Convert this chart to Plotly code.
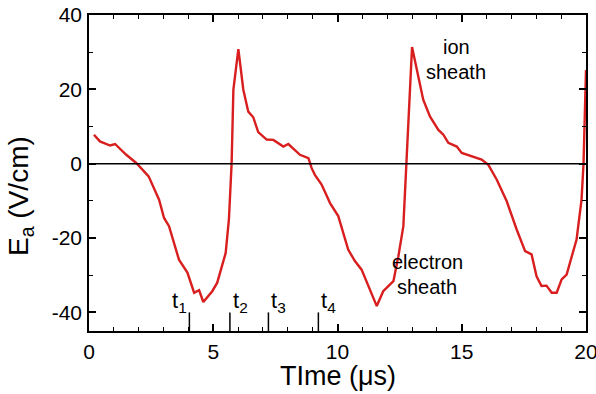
import plotly.graph_objects as go

time_us = [0.2, 0.44, 0.85, 1.05, 1.5, 1.9, 2.4, 2.82, 3.02, 3.22, 3.62, 3.96, 4.23, 4.43, 4.6,
           4.96, 5.16, 5.5, 5.63, 5.74, 5.81, 6.01, 6.21, 6.41, 6.61, 6.81, 7.15, 7.42, 7.82,
           8.02, 8.49, 8.83, 8.96, 9.09, 9.36, 9.7, 10.03, 10.43, 10.7, 10.97, 11.58, 11.84,
           12.25, 12.45, 12.65, 12.78, 13.0, 13.45, 13.72, 14.06, 14.26, 14.46, 14.8, 15.0,
           15.4, 15.8, 16.07, 16.41, 16.81, 17.21, 17.55, 17.81, 18.01, 18.21, 18.41, 18.62,
           18.82, 19.02, 19.22, 19.62, 19.82, 19.9, 20.0]
field_Vcm = [7.8, 6.0, 4.9, 5.3, 2.4, 0.2, -3.4, -9.7, -14.6, -16.8, -25.8, -29.3, -34.7, -34.0,
             -37.2, -34.3, -32.0, -24.0, -15.0, 0.2, 19.9, 30.8, 19.9, 14.0, 12.5, 8.5, 6.5, 6.4,
             4.6, 5.3, 2.4, 1.5, -1.2, -3.0, -5.6, -10.6, -14.1, -23.1, -26.2, -28.5, -38.3,
             -34.3, -31.6, -24.9, -16.8, 0.0, 31.4, 17.2, 12.7, 9.1, 7.8, 5.6, 4.6, 2.9,
             2.0, 1.1, -0.3, -4.3, -10.1, -17.7, -23.5, -24.4, -30.3, -32.9, -32.8, -34.7,
             -34.7, -31.1, -29.8, -20.4, -9.7, 0.0, 25.2]

marker_times = [4.04, 5.67, 7.22, 9.23]
marker_names = ["t<sub>1</sub>", "t<sub>2</sub>", "t<sub>3</sub>", "t<sub>4</sub>"]
marker_side = ["left", "right", "right", "right"]

x_ticks = [0, 5, 10, 15, 20]
y_ticks = [-40, -20, 0, 20, 40]

FONT = "Liberation Sans, Arial, sans-serif"
X_RANGE = [0, 20]
Y_RANGE = [-45, 40]

fig = go.Figure()
fig.add_trace(go.Scatter(x=time_us, y=field_Vcm, mode="lines",
                         line=dict(color="#d81e1e", width=2.4), showlegend=False))
# invisible companion trace to draw the mirrored top/right axes with minor ticks
fig.add_trace(go.Scatter(x=time_us, y=field_Vcm, mode="lines", xaxis="x2", yaxis="y2",
                         line=dict(color="rgba(0,0,0,0)", width=0), showlegend=False,
                         hoverinfo="skip"))

# zero line
fig.add_shape(type="line", xref="x", yref="y", x0=0, x1=20, y0=0, y1=0,
              line=dict(color="black", width=1.5))

for t, name, side in zip(marker_times, marker_names, marker_side):
    fig.add_shape(type="line", xref="x", yref="y", x0=t, x1=t, y0=-45, y1=-40,
                  line=dict(color="black", width=1.5))
    fig.add_annotation(x=t, y=-41.5, xref="x", yref="y", text=name, showarrow=False,
                       xanchor="right" if side == "left" else "left", yanchor="bottom",
                       xshift=0 if side == "left" else 1,
                       font=dict(family=FONT, size=22, color="black"))

fig.add_annotation(x=14.77, y=31.5, text="ion", showarrow=False, xref="x", yref="y",
                   font=dict(family=FONT, size=20, color="black"))
fig.add_annotation(x=14.75, y=24.8, text="sheath", showarrow=False, xref="x", yref="y",
                   font=dict(family=FONT, size=20, color="black"))
fig.add_annotation(x=13.62, y=-26.5, text="electron", showarrow=False, xref="x", yref="y",
                   font=dict(family=FONT, size=20, color="black"))
fig.add_annotation(x=13.6, y=-33.1, text="sheath", showarrow=False, xref="x", yref="y",
                   font=dict(family=FONT, size=20, color="black"))

# axis titles
fig.add_annotation(x=0.5, y=(331 - 376) / 316, xref="paper", yref="paper",
                   text="TIme (\u03bcs)", showarrow=False, xanchor="center", yanchor="middle",
                   font=dict(family=FONT, size=27, color="black"))
fig.add_annotation(x=-68 / 497, y=(331 - 196) / 316, xref="paper", yref="paper",
                   text="E<sub>a</sub> (V/cm)", showarrow=False, textangle=-90,
                   xanchor="center", yanchor="middle",
                   font=dict(family=FONT, size=28, color="black"))

axis_common = dict(showgrid=False, zeroline=False, showline=True, linecolor="black",
                   linewidth=1.5, ticks="inside", ticklen=7, tickwidth=1.5,
                   tickcolor="black", automargin=False,
                   tickfont=dict(family=FONT, size=21, color="black"))

x_minor = dict(ticks="inside", ticklen=4, dtick=1, tick0=0, tickcolor="black", tickwidth=1.2)
y_minor = dict(ticks="inside", ticklen=4, dtick=10, tick0=0, tickcolor="black", tickwidth=1.2)

fig.update_layout(
    xaxis=dict(range=X_RANGE, tickvals=x_ticks, ticktext=[str(v) for v in x_ticks],
               minor=x_minor, ticklabelstandoff=1, ticklabeloverflow="allow", **axis_common),
    yaxis=dict(range=Y_RANGE, tickvals=y_ticks, ticktext=[str(v) for v in y_ticks],
               minor=y_minor, ticklabelstandoff=1, ticklabeloverflow="allow", **axis_common),
    xaxis2=dict(range=X_RANGE, tickvals=x_ticks, overlaying="x", side="top",
                showticklabels=False, minor=x_minor, **axis_common),
    yaxis2=dict(range=Y_RANGE, tickvals=y_ticks, overlaying="y", side="right",
                showticklabels=False, minor=y_minor, **axis_common),
    width=596, height=394, margin=dict(l=89, r=10, t=15, b=63),
    plot_bgcolor="white", paper_bgcolor="white", showlegend=False,
)

fig.write_html("out.html")
